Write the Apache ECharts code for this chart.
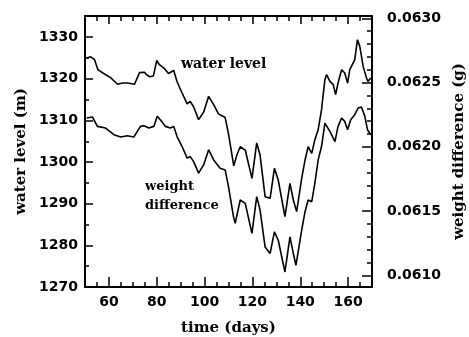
<!DOCTYPE html>
<html>
<head>
<meta charset="utf-8">
<script src="https://cdn.jsdelivr.net/npm/echarts@6/dist/echarts.min.js"></script>
<style>
  html, body { margin: 0; padding: 0; background: #fff; }
  #chart { width: 469px; height: 337px; }
</style>
</head>
<body>
<div id="chart"></div>
<script>
// water level (m), upper curve
const levelDays = [50.6, 52.4, 54.0, 55.4, 57.5, 58.6, 60.7, 63.6, 65.7, 67.8, 70.7, 72.8, 74.9, 75.7, 77.0,
  78.6, 80.0, 81.1, 83.0, 84.9, 87.1, 88.5, 90.6, 92.7, 94.0, 95.4, 97.5, 99.6, 101.7, 103.8,
  105.8, 108.6, 110.0, 112.2, 113.5, 114.9, 117.0, 119.8, 121.8, 123.2, 125.3, 127.4, 129.2, 130.8, 133.6,
  135.7, 137.1, 138.5, 140.6, 142.0, 143.3, 144.8, 146.1, 147.5, 148.9, 150.3, 151.0, 152.4, 153.8, 154.8,
  155.8, 157.3, 158.6, 159.8, 160.7, 162.1, 162.8, 163.9, 164.9, 166.3, 167.7, 168.3, 169.5];
const levelValues = [1325.0, 1325.3, 1324.6, 1322.2, 1321.4, 1321.0, 1320.3, 1318.7, 1319.0, 1319.0, 1318.7, 1321.5, 1321.6, 1321.0, 1320.5,
  1320.7, 1324.4, 1323.4, 1322.6, 1321.3, 1322.0, 1319.3, 1316.6, 1314.0, 1314.6, 1313.3, 1310.2, 1312.0, 1315.8, 1313.8,
  1311.6, 1310.7, 1306.8, 1299.1, 1301.7, 1303.7, 1302.9, 1296.1, 1304.6, 1301.7, 1291.7, 1291.3, 1298.5, 1295.7, 1286.9,
  1294.9, 1290.9, 1288.1, 1296.1, 1300.5, 1303.7, 1302.1, 1305.4, 1307.8, 1312.6, 1319.8, 1321.0, 1319.4, 1318.6, 1316.2,
  1319.0, 1322.2, 1321.4, 1319.0, 1322.2, 1323.8, 1324.6, 1329.4, 1327.8, 1323.0, 1320.2, 1319.4, 1320.2];

// weight difference (g), lower curve
const weightDays = [50.7, 53.1, 55.2, 58.6, 62.1, 64.9, 67.7, 70.4, 73.2, 74.6, 76.7, 78.8, 80.2, 81.5, 83.6,
  85.7, 87.1, 88.5, 90.6, 92.7, 94.0, 95.4, 97.5, 99.6, 101.7, 103.8, 106.5, 108.6, 110.0, 112.1,
  112.8, 114.9, 117.0, 119.8, 121.8, 123.2, 125.3, 127.4, 129.2, 130.8, 133.6, 135.7, 137.1, 138.2, 140.6,
  142.0, 143.3, 144.8, 146.1, 147.5, 148.9, 150.3, 152.4, 154.5, 155.8, 157.3, 158.6, 159.8, 161.1, 162.8,
  164.2, 165.6, 167.0, 168.1, 169.5];
const weightValues = [0.062224, 0.062232, 0.062159, 0.062146, 0.062094, 0.062076, 0.062086, 0.062076, 0.062159, 0.062164,
  0.062146, 0.062159, 0.062237, 0.062211, 0.062159, 0.062146, 0.062159, 0.062080, 0.062002, 0.061912,
  0.061924, 0.061885, 0.061795, 0.061859, 0.061977, 0.061898, 0.061834, 0.061820, 0.061690, 0.061455,
  0.061404, 0.061586, 0.061560, 0.061326, 0.061612, 0.061508, 0.061221, 0.061170, 0.061338, 0.061273,
  0.061026, 0.061299, 0.061170, 0.061078, 0.061352, 0.061495, 0.061586, 0.061573, 0.061716, 0.061898,
  0.062002, 0.062185, 0.062120, 0.062041, 0.062159, 0.062224, 0.062198, 0.062133, 0.062211, 0.062250,
  0.062302, 0.062310, 0.062237, 0.062133, 0.062094];

// ticks
const xMajor = [60, 80, 100, 120, 140, 160];
const xMinor = [55, 60, 65, 70, 75, 80, 85, 90, 95, 100, 105, 110, 115, 120, 125, 130, 135, 140, 145, 150, 155, 160, 165];
const leftMajor = [1270, 1280, 1290, 1300, 1310, 1320, 1330];
const leftMinor = [1275, 1285, 1295, 1305, 1315, 1325];
const rightMajor = [0.0610, 0.0615, 0.0620, 0.0625, 0.0630];
const rightMinor = [0.0611, 0.0612, 0.0613, 0.0614, 0.0616, 0.0617, 0.0618, 0.0619,
  0.0621, 0.0622, 0.0623, 0.0624, 0.0626, 0.0627, 0.0628, 0.0629];

const labelFont = { color: '#000', fontFamily: 'DejaVu Sans', fontWeight: 'bold', fontSize: 14 };
const titleFont = { color: '#000', fontFamily: 'DejaVu Serif', fontWeight: 'bold', fontSize: 15 };
const black = { color: '#000', width: 2 };

// helper for the extra axes that only carry ticks
function tickAxis(base, pos, values, len) {
  return Object.assign({
    type: 'value',
    position: pos,
    axisLine: { show: false },
    axisTick: { show: true, inside: true, length: len, customValues: values, lineStyle: { color: '#000', width: 1.5 } },
    axisLabel: { show: false },
    splitLine: { show: false }
  }, base);
}

const xRange = { min: 50, max: 170 };
const leftRange = { min: 1270, max: 1335.1 };
const rightRange = { min: 0.060909, max: 0.063018 };

const chart = echarts.init(document.getElementById('chart'));
chart.setOption({
  animation: false,
  grid: { left: 85, right: 97, top: 16, bottom: 50, containLabel: false, outerBoundsMode: 'none' },
  xAxis: [
    {
      type: 'value', min: 50, max: 170, position: 'bottom',
      axisLine: { lineStyle: black },
      axisTick: { inside: true, length: 10, customValues: xMajor, lineStyle: { color: '#000', width: 1.5 } },
      axisLabel: Object.assign({ customValues: xMajor, margin: 8 }, labelFont),
      splitLine: { show: false },
      name: 'time (days)', nameLocation: 'middle', nameGap: 34, nameTextStyle: titleFont
    },
    tickAxis(xRange, 'bottom', xMinor, 5),
    Object.assign(tickAxis(xRange, 'top', xMajor, 8), { axisLine: { show: true, lineStyle: black } }),
    tickAxis(xRange, 'top', xMinor, 5)
  ],
  yAxis: [
    {
      type: 'value', min: 1270, max: 1335.1, position: 'left',
      axisLine: { show: true, lineStyle: black },
      axisTick: { inside: true, length: 8, customValues: leftMajor, lineStyle: { color: '#000', width: 1.5 } },
      axisLabel: Object.assign({ customValues: leftMajor, margin: 7, formatter: v => String(v) }, labelFont),
      splitLine: { show: false },
      name: 'water level (m)', nameLocation: 'middle', nameGap: 54, nameTextStyle: titleFont
    },
    tickAxis(leftRange, 'left', leftMinor, 4),
    {
      type: 'value', min: 0.060909, max: 0.063018, position: 'right',
      axisLine: { show: true, lineStyle: black },
      axisTick: { inside: true, length: 10, customValues: rightMajor, lineStyle: { color: '#000', width: 1.5 } },
      axisLabel: Object.assign({ customValues: rightMajor, margin: 15, formatter: v => v.toFixed(4) }, labelFont),
      splitLine: { show: false },
      name: 'weight difference (g)', nameLocation: 'middle', nameGap: 79, nameTextStyle: titleFont
    },
    tickAxis(rightRange, 'right', rightMinor, 5)
  ],
  graphic: [
    { type: 'text', left: 181, top: 57, style: { text: 'water level', fill: '#000', font: 'bold 14px "DejaVu Serif"' } },
    { type: 'text', left: 145, top: 180, style: { text: 'weight', fill: '#000', font: 'bold 13px "DejaVu Serif"' } },
    { type: 'text', left: 145, top: 199, style: { text: 'difference', fill: '#000', font: 'bold 13px "DejaVu Serif"' } }
  ],
  series: [
    {
      name: 'water level', type: 'line', xAxisIndex: 0, yAxisIndex: 0,
      symbol: 'none', lineStyle: { color: '#000', width: 1.6 },
      data: levelDays.map((d, i) => [d, levelValues[i]])
    },
    {
      name: 'weight difference', type: 'line', xAxisIndex: 0, yAxisIndex: 2,
      symbol: 'none', lineStyle: { color: '#000', width: 1.6 },
      data: weightDays.map((d, i) => [d, weightValues[i]])
    }
  ]
});
</script>
</body>
</html>
